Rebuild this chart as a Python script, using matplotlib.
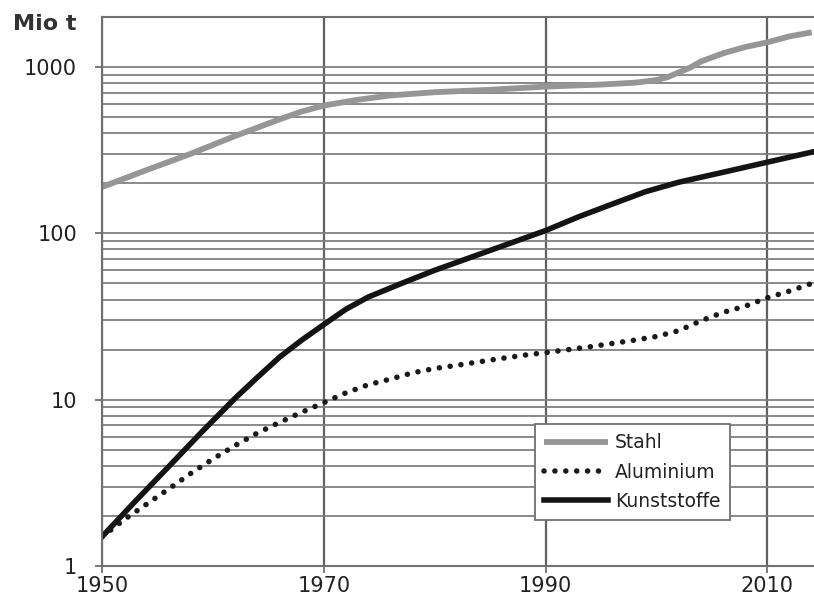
import matplotlib.pyplot as plt
from matplotlib.ticker import FixedLocator, LogLocator, NullFormatter

plt.rcParams['font.family'] = ['DejaVu Sans']

# values (Mio t)
years_stahl = [1950, 1954, 1958, 1962, 1966, 1968, 1970, 1973, 1976, 1980, 1985, 1990,
               1995, 1998, 2000, 2001, 2003, 2004, 2006, 2008, 2010, 2012, 2014]
stahl = [190, 240, 301, 385, 485, 540, 587, 635, 675, 706, 730, 763,
         785, 805, 835, 870, 990, 1080, 1210, 1320, 1409, 1530, 1618]

years_kunst = [1950, 1953, 1956, 1959, 1962, 1964, 1966, 1968, 1970, 1972, 1974, 1977,
               1980, 1985, 1990, 1993, 1996, 1999, 2002, 2006, 2010, 2014]
kunststoffe = [1.5, 2.45, 3.95, 6.4, 10.2, 13.6, 18.0, 22.8, 28.3, 35, 41.4, 50,
               60, 79, 104, 126, 150, 178, 203, 233, 268, 308]

years_alu = [1950, 1952, 1954, 1956, 1958, 1960, 1962, 1964, 1966, 1968, 1970, 1972,
             1974, 1976, 1978, 1980, 1982, 1985, 1988, 1990, 1994, 1998, 2000, 2002,
             2004, 2006, 2008, 2010, 2012, 2014]
aluminium = [1.5, 1.9, 2.35, 2.9, 3.6, 4.4, 5.3, 6.3, 7.3, 8.4, 9.6, 11,
             12.3, 13.3, 14.5, 15.4, 16.1, 17.3, 18.5, 19.2, 20.8, 22.8, 24, 26,
             29.8, 33.5, 36.5, 41, 45, 50]

x_ticks = [1950, 1970, 1990, 2010]
y_ticks = [1, 10, 100, 1000]

fig = plt.figure(figsize=(8.14, 6.0), dpi=100)
ax = fig.add_axes([102 / 814, 34 / 600, 712 / 814, 549 / 600])

ax.set_yscale('log')
ax.set_xlim(1950, 2014.2)
ax.set_ylim(1, 2000)

# grid: every log step horizontally, 20-year steps vertically
ax.yaxis.set_major_locator(FixedLocator(y_ticks))
ax.yaxis.set_minor_locator(LogLocator(base=10, subs=range(2, 10)))
ax.yaxis.set_minor_formatter(NullFormatter())
ax.set_yticklabels([str(v) for v in y_ticks])
ax.set_xticks(x_ticks)
ax.grid(axis='y', which='both', color='#808080', lw=1.3)
ax.grid(axis='x', which='major', color='#606060', lw=1.6)
ax.set_axisbelow(True)

ax.plot(years_stahl, stahl, color='#969696', lw=4.2, label='Stahl',
        solid_capstyle='butt', solid_joinstyle='round')
ax.plot(years_alu, aluminium, color='#1a1a1a', lw=4.0, linestyle=(0, (0.01, 1.95)),
        dash_capstyle='round', label='Aluminium')
ax.plot(years_kunst, kunststoffe, color='#141414', lw=4.0, label='Kunststoffe',
        solid_joinstyle='round')

for s in ['left', 'bottom', 'top']:
    ax.spines[s].set_color('#707070')
    ax.spines[s].set_linewidth(1.5)
ax.spines['right'].set_visible(False)

ax.tick_params(axis='both', which='major', labelsize=15, length=5, width=1.3,
               color='#707070', labelcolor='#222222')
ax.tick_params(axis='y', which='minor', length=0)
ax.tick_params(axis='y', pad=13)
ax.tick_params(axis='x', pad=2)

fig.text(13 / 814, 1 - 24 / 600, 'Mio t', fontsize=16, fontweight='bold',
         ha='left', va='center', color='#333333')

leg = ax.legend(loc='upper left', bbox_to_anchor=(535 / 814, 1 - 424 / 600),
                bbox_transform=fig.transFigure, borderaxespad=0,
                fontsize=13.5, frameon=True, fancybox=False, edgecolor='#707070',
                framealpha=1, handlelength=3.4, handletextpad=0.35, borderpad=0.5,
                labelspacing=0.55)
leg.get_frame().set_linewidth(1.3)
for t in leg.get_texts():
    t.set_color('#222222')

fig.savefig('out.png', dpi=100)
